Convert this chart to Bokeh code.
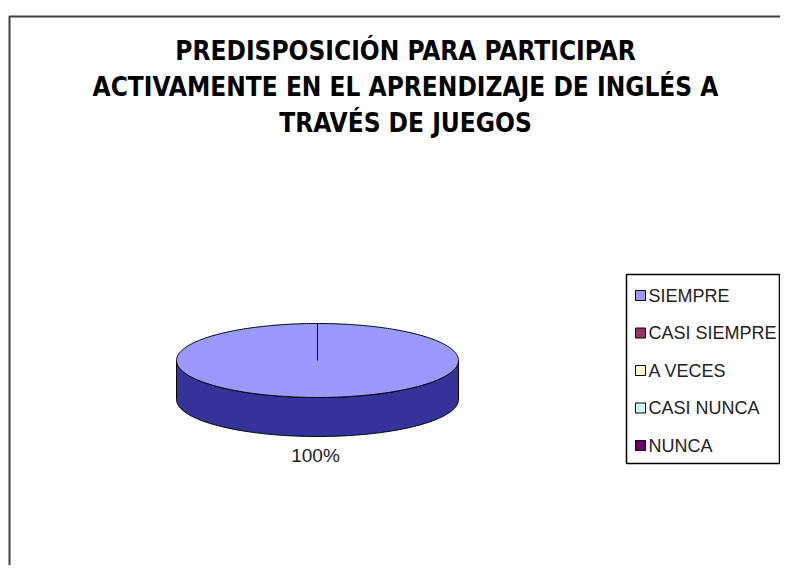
from bokeh.plotting import figure
from bokeh.models import Range1d
from bokeh.core.properties import value
from bokeh.embed import file_html
from bokeh.resources import INLINE
import numpy as np

# ---- data ----
categories = ["SIEMPRE", "CASI SIEMPRE", "A VECES", "CASI NUNCA", "NUNCA"]
values = [100, 0, 0, 0, 0]
colors = ["#9999FF", "#993366", "#FFFFCC", "#CCFFFF", "#660066"]
side_colors = ["#333399", "#4D1A33", "#808066", "#668080", "#330033"]
title_lines = ["PREDISPOSICIÓN PARA PARTICIPAR",
               "ACTIVAMENTE EN EL APRENDIZAJE DE INGLÉS A",
               "TRAVÉS DE JUEGOS"]

W, H = 780, 565
p = figure(width=W, height=H, output_backend="svg", toolbar_location=None,
           x_range=Range1d(0, W), y_range=Range1d(H, 0),
           x_axis_location=None, y_axis_location=None, min_border=0)
p.grid.visible = False
p.outline_line_color = None
p.background_fill_color = "white"

# chart border (extends beyond the visible window like the reference)
p.quad(left=[9], right=[W + 40], top=[16], bottom=[H + 40],
       fill_color=None, line_color="#404040", line_width=2)

# title
p.text(x=[405] * 3, y=[50, 86, 122], text=title_lines,
       text_font=value("'DejaVu Sans Condensed', 'Liberation Sans', sans-serif"),
       text_font_style="bold",
       text_font_size="26px", text_align="center", text_baseline="middle",
       text_color="black")

# ---- 3D pie ----
cx, cy, rx, ry, depth = 317, 360, 141, 37, 39
total = float(sum(values))
start = np.pi / 2
boundaries = []
slices = []
for v, c, sc in zip(values, colors, side_colors):
    if v <= 0:
        continue
    sweep = 2 * np.pi * v / total
    a0, a1 = start, start - sweep  # clockwise
    slices.append((a0, a1, c, sc, v))
    boundaries.append(a0)
    start = a1

def ell(th, dy=0.0):
    return cx + rx * np.cos(th), cy - ry * np.sin(th) + dy

# side faces (front half: angles where sin < 0)
for a0, a1, c, sc, v in slices:
    th = np.linspace(a0, a1, 400)
    th_mod = np.mod(th, 2 * np.pi)
    mask = (th_mod >= np.pi) & (th_mod <= 2 * np.pi)
    if mask.any():
        t = np.sort(th_mod[mask])
        xs_top, ys_top = ell(t)
        xs_bot, ys_bot = ell(t[::-1], depth)
        p.patch(list(xs_top) + list(xs_bot), list(ys_top) + list(ys_bot),
                fill_color=sc, line_color="black", line_width=1)

# top faces
for a0, a1, c, sc, v in slices:
    th = np.linspace(a0, a1, 400)
    xs, ys = ell(th)
    if abs(a0 - a1) < 2 * np.pi - 1e-9:
        xs = np.concatenate([[cx], xs, [cx]])
        ys = np.concatenate([[cy], ys, [cy]])
    p.patch(list(xs), list(ys), fill_color=c, line_color="black", line_width=1)

# slice boundary lines
for a in boundaries:
    bx, by = ell(a)
    p.line([cx, bx], [cy, by], line_color="black", line_width=1)

# percentage labels
for a0, a1, c, sc, v in slices:
    mid = (a0 + a1) / 2
    lx = cx + (rx + 15) * np.cos(mid)
    ly = cy - (ry + 15) * np.sin(mid) + (depth if np.sin(mid) < 0 else 0) + 4
    p.text(x=[lx - 2], y=[ly], text=[f"{round(v / total * 100)}%"],
           text_font=value("Liberation Sans"), text_font_size="19px",
           text_align="center", text_baseline="middle", text_color="#222222")

# ---- legend ----
lx0, ly0, lx1, ly1 = 626, 274, 779, 463
p.quad(left=[lx0], right=[lx1], top=[ly0], bottom=[ly1],
       fill_color="white", line_color="black", line_width=1.5)
row_y = [ly0 + 21 + 37.5 * i for i in range(len(categories))]
p.rect(x=[lx0 + 14] * len(categories), y=row_y, width=10, height=10,
       fill_color=colors, line_color="black", line_width=1)
p.text(x=[lx0 + 22] * len(categories), y=row_y, text=categories,
       text_font=value("Liberation Sans"), text_font_size="18px",
       text_align="left", text_baseline="middle", text_color="#222222")

open("out.html", "w").write(file_html(p, INLINE))
